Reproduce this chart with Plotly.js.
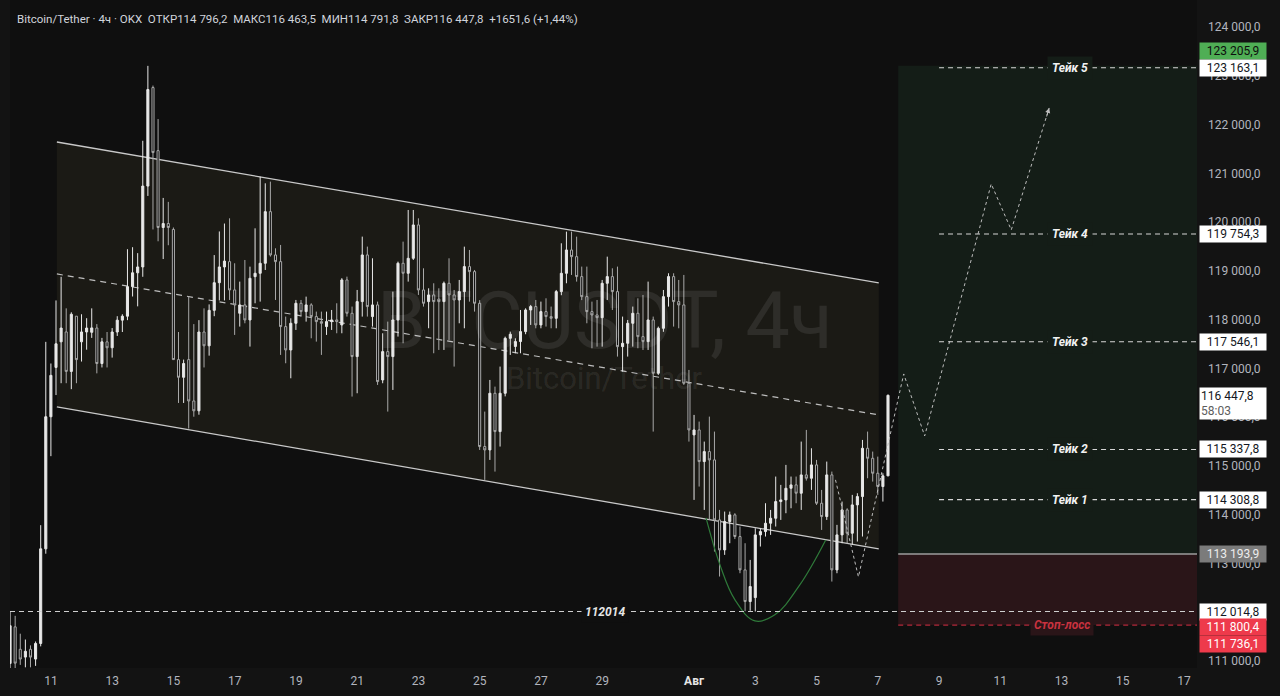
<!DOCTYPE html>
<html>
<head>
<meta charset="utf-8">
<script src="https://cdn.plot.ly/plotly-3.0.1.min.js"></script>
<style>
  html, body { margin: 0; padding: 0; background: #121212; }
  #chart { width: 1280px; height: 696px; }
</style>
</head>
<body>
<div id="chart"></div>
<script>
// ---- BTC/USDT 4h bars (OKX) ----
const firstBar = '2025-07-09T16:00:00Z';
const barHours = 4;

const opens = [
110950,111700,111240,111080,111240,111040,111360,113300,116008,117020,
117545,117747,116938,118070,117545,117747,117740,117827,117100,117544,
117423,117746,117989,118070,118676,118960,119080,120738,122758,121465,
119889,119970,119849,117180,116817,117180,116332,116130,117746,117463,
118190,118757,119080,119189,118608,118130,118301,117993,118881,118950,
119155,120214,119326,119189,117857,117378,117925,118335,118164,118301,
118062,117959,117857,117959,117993,117891,118813,118130,117242,118369,
119326,118062,118301,116763,117344,117242,117993,119155,118950,119257,
119941,118608,118369,118506,118420,118369,118745,118506,118403,118574,
119087,118984,118335,115397,115328,116490,115704,116490,117617,117450,
117550,117754,118198,118267,117891,118164,118062,118027,118574,118950,
119428,119291,118882,118471,118164,118096,118040,118745,118882,118574,
117446,117515,117925,118130,117651,117549,117993,116900,117822,118471,
118882,118369,118301,116695,115636,115738,115089,115294,115123,113893,
113278,113859,113996,113552,112868,112219,112300,113586,113654,113825,
113927,114269,114303,114542,114611,114440,114816,114747,115021,114235,
113962,114816,112868,113586,114098,113620,114201,114372,115362,115157,
114850,114577,114796.2];

const highs = [
112006,111926,111560,111440,111320,111400,113785,117544,117100,118393,
118878,118231,118150,118070,118110,118029,118231,117908,117625,117746,
117827,118070,118110,119444,119485,119363,121667,123203,122799,122112,
120495,120414,119889,117746,117180,118474,117908,117989,118231,118312,
119323,119808,119970,120077,119155,118779,119223,119086,119872,120931,
120795,120829,119462,119531,118062,118027,118403,118403,118471,118335,
118164,118164,118164,118198,118335,118850,118881,118267,118608,119702,
119497,119257,118369,117720,117959,118574,119189,119599,120248,120248,
120077,119052,118642,118745,118642,118780,119257,118608,118813,119496,
119428,119018,118400,116114,116763,116626,117037,117651,117754,117617,
118198,118232,118301,118403,118369,118437,118267,118608,119565,119804,
119804,119701,119087,119087,118369,118403,118813,119291,119052,119087,
118062,117993,118267,118437,118506,118779,118062,117857,118608,118950,
118950,118813,118916,116968,116046,115909,115499,116011,115704,114098,
114064,114064,114030,113757,113415,113073,113722,113722,114235,114098,
114782,114611,115021,114782,114782,115499,115738,115362,115123,114508,
115089,114884,113791,114269,114132,114406,114440,115533,115704,115294,
115191,114850,116463.5];

const lows = [
110800,110850,110920,110870,110870,110900,111300,113200,115200,116453,
116696,116696,116574,116696,117140,117383,117625,116898,117019,117019,
117221,117665,117746,117989,118474,118272,118878,120536,119849,119606,
119242,119525,117180,116291,116291,115766,116009,116050,117019,117261,
118070,118393,118393,118403,117686,117857,117925,117447,118335,118369,
119018,119292,118403,117276,117105,116797,117788,118062,117959,117617,
117549,117276,117686,117788,117720,117720,118062,116422,116490,118062,
118062,117857,116661,116695,116114,116558,117652,117515,118779,119223,
118506,118267,117823,117310,117378,117378,117583,117037,117925,117822,
118369,118164,115328,114713,115123,114884,115397,116426,117276,117310,
117310,117700,117891,117822,117822,117857,117822,117822,118500,118745,
118916,118779,118400,117925,117412,117446,117446,118403,118198,117242,
116934,117242,117446,117412,117378,117378,115704,116866,117750,118267,
117857,117822,116661,115499,114303,114577,114098,113893,113244,112732,
113176,113415,113500,112800,112020,112030,112014.8,113347,113552,113586,
113757,113893,114030,114132,114235,114098,114700,114508,114200,113688,
113893,112629,112800,113415,113415,113381,113449,113552,114747,114679,
114406,114269,114791.8];

const closes = [
111724,110956,111040,111200,111080,111360,113300,116008,116857,117504,
117827,116938,118110,117180,117747,117827,117830,117100,117544,117423,
117746,117989,118070,118676,118960,119080,120738,122718,121425,119889,
119970,119889,117180,116817,117100,116332,116130,117746,117463,118190,
118757,119080,119200,118608,118301,118301,117993,118847,118950,119155,
120214,119326,119189,117857,117378,117925,118335,118164,118301,118062,
117959,117925,117959,117993,117960,118813,118130,117242,118369,119326,
118267,118301,116729,117344,117242,117993,119155,118950,119257,119941,
118608,118335,118506,118369,118369,118745,118506,118403,118574,119087,
118984,118335,115397,115328,116490,115704,116490,117617,117700,117550,
117754,118198,118267,117891,118164,118062,118027,118574,118950,119428,
119291,118882,118471,118164,118096,118040,118745,118882,118574,117446,
117515,117925,118130,117651,117549,117993,116900,117822,118471,118882,
118369,118301,116695,115738,115738,115089,115294,115123,113893,113278,
113859,113996,113552,112868,112219,112527,113586,113654,113825,113927,
114269,114303,114542,114611,114440,114816,114747,115021,114235,113962,
114816,112868,113586,114098,113620,114201,114372,115362,115157,114850,
114577,114796.2,116447.8];

// ---- axis ticks ----
const dateTicks = ['2025-07-11','2025-07-13','2025-07-15','2025-07-17','2025-07-19','2025-07-21',
  '2025-07-23','2025-07-25','2025-07-27','2025-07-29','2025-08-01','2025-08-03','2025-08-05',
  '2025-08-07','2025-08-09','2025-08-11','2025-08-13','2025-08-15','2025-08-17'];
const dateTickText = ['11','13','15','17','19','21','23','25','27','29',
  '<b><span style="color:#e6e6e6">Авг</span></b>','3','5','7','9','11','13','15','17'];
const priceTicks = [111000,112000,113000,114000,115000,116000,117000,118000,119000,120000,121000,122000,123000,124000];

// ---- descending channel ----
const channelDates = ['2025-07-11 04:41', '2025-08-07 00:47'];
const channelTop = [121642, 118752];
const channelMid = [118936, 116046];
const channelBottom = [116210, 113299];

// ---- rounded bottom (cup) ----
const cupDates = ['2025-08-01 09:24','2025-08-01 20:20','2025-08-02 08:04','2025-08-02 23:41',
  '2025-08-03 15:19','2025-08-04 10:52','2025-08-05 07:12'];
const cupPrices = [113934, 112971, 112253, 111823, 111946, 112561, 113483];

// ---- projected path ----
const pathDates = ['2025-08-05 14:51','2025-08-06 08:50','2025-08-07 20:20','2025-08-08 12:44',
  '2025-08-10 16:53','2025-08-11 08:36','2025-08-12 14:18'];
const pathPrices = [114714, 112725, 116886, 115615, 120782, 119839, 122340];

// ---- long position ----
const positionStart = '2025-08-07 16:00';
const levelsStart = '2025-08-09 00:00';
const entryPrice = 113193.9;
const targetPrice = 123205.9;
const stopTagPrice = 111800.4;
const stopPrice = 111736.1;
const takeLabels = ['Тейк 1','Тейк 2','Тейк 3','Тейк 4','Тейк 5'];
const takePrices = [114308.8, 115337.8, 117546.1, 119754.3, 123163.1];
const labelDate = '2025-08-13 06:15';
const stopLabelDate = '2025-08-13 00:10';
const supportPrice = 112014.8;
const supportLabel = '112014';
const supportLabelDate = '2025-07-29 02:20';

const viewStart = '2025-07-09 15:57';
const viewEnd = '2025-08-17 10:09';

// ---- helpers ----
const pad = n => String(n).padStart(2, '0');
const barTimes = [];
{
  const t0 = Date.parse(firstBar);
  for (let i = 0; i < opens.length; i++) {
    const d = new Date(t0 + i * barHours * 3600e3);
    barTimes.push(`${d.getUTCFullYear()}-${pad(d.getUTCMonth() + 1)}-${pad(d.getUTCDate())} ${pad(d.getUTCHours())}:00`);
  }
}
const ms = s => Date.parse(s.replace(' ', 'T') + ':00Z');
const fmt = v => {
  const [i, d] = v.toFixed(1).split('.');
  return i.replace(/\B(?=(\d{3})+(?!\d))/g, ' ') + ',' + d;
};

const BG = '#0f0f0f';
const CHANNEL_FILL = '#1b1a15';
const GREEN_ZONE = '#141d17';
const RED_ZONE = '#2a1518';
const FONT = 'Roboto, "Liberation Sans", sans-serif';

// ---- traces ----
const traces = [
  {
    type: 'candlestick', x: barTimes, open: opens, high: highs, low: lows, close: closes,
    increasing: { line: { color: '#e8e8e8', width: 1 }, fillcolor: '#e8e8e8' },
    decreasing: { line: { color: '#a9a9a9', width: 1 }, fillcolor: '#121212' },
    whiskerwidth: 0, hoverinfo: 'skip', showlegend: false
  },
  {
    type: 'scatter', mode: 'lines', x: cupDates, y: cupPrices,
    line: { color: '#2f7a3a', width: 1.2, shape: 'spline', smoothing: 1.1 },
    hoverinfo: 'skip', showlegend: false
  },
  {
    type: 'scatter', mode: 'lines', x: pathDates, y: pathPrices,
    line: { color: '#bdbdbd', width: 1, dash: 'dot' },
    hoverinfo: 'skip', showlegend: false
  }
];

// ---- shapes ----
const channelPath = `M ${ms(channelDates[0])},${channelTop[0]} L ${ms(channelDates[1])},${channelTop[1]} ` +
  `L ${ms(channelDates[1])},${channelBottom[1]} L ${ms(channelDates[0])},${channelBottom[0]} Z`;

const shapes = [
  // position zones
  { type: 'rect', xref: 'x', yref: 'y', x0: positionStart, x1: viewEnd, y0: entryPrice, y1: targetPrice,
    fillcolor: GREEN_ZONE, line: { width: 0 }, layer: 'below' },
  { type: 'rect', xref: 'x', yref: 'y', x0: positionStart, x1: viewEnd, y0: stopPrice, y1: entryPrice,
    fillcolor: RED_ZONE, line: { width: 0 }, layer: 'below' },
  // channel
  { type: 'path', xref: 'x', yref: 'y', path: channelPath, fillcolor: CHANNEL_FILL, line: { width: 0 }, layer: 'below' },
  { type: 'line', xref: 'x', yref: 'y', x0: channelDates[0], x1: channelDates[1], y0: channelTop[0], y1: channelTop[1],
    line: { color: '#c9c9c9', width: 1.3 }, layer: 'below' },
  { type: 'line', xref: 'x', yref: 'y', x0: channelDates[0], x1: channelDates[1], y0: channelBottom[0], y1: channelBottom[1],
    line: { color: '#c9c9c9', width: 1.3 }, layer: 'below' },
  { type: 'line', xref: 'x', yref: 'y', x0: channelDates[0], x1: channelDates[1], y0: channelMid[0], y1: channelMid[1],
    line: { color: '#bdbdbd', width: 1.2, dash: '6px,5px' }, layer: 'below' },
  // support level
  { type: 'line', xref: 'paper', yref: 'y', x0: 0, x1: 1, y0: supportPrice, y1: supportPrice,
    line: { color: '#cfcfcf', width: 1.1, dash: '5px,4px' } },
  // entry
  { type: 'line', xref: 'x', yref: 'y', x0: positionStart, x1: viewEnd, y0: entryPrice, y1: entryPrice,
    line: { color: '#9c9c9c', width: 1.3 } },
  // stop
  { type: 'line', xref: 'x', yref: 'y', x0: positionStart, x1: viewEnd, y0: stopPrice, y1: stopPrice,
    line: { color: '#b3293a', width: 1.1, dash: '5px,4px' } }
];
takePrices.forEach(p => shapes.push({
  type: 'line', xref: 'x', yref: 'y', x0: levelsStart, x1: viewEnd, y0: p, y1: p,
  line: { color: '#d6d6d6', width: 1.1, dash: '5px,4px' }
}));

// ---- annotations ----
const annotations = [
  { xref: 'paper', yref: 'paper', x: 0.5013, y: 0.52, text: 'BTCUSDT, 4ч', showarrow: false,
    font: { family: FONT, size: 79, color: 'rgba(255,255,255,0.085)' }, xanchor: 'center', yanchor: 'middle' },
  { xref: 'paper', yref: 'paper', x: 0.5, y: 0.434, text: 'Bitcoin/Tether', showarrow: false,
    font: { family: FONT, size: 31, color: 'rgba(255,255,255,0.085)' }, xanchor: 'center', yanchor: 'middle' },
  { xref: 'paper', yref: 'paper', x: 0.0042, y: 0.9716, xanchor: 'left', yanchor: 'middle', showarrow: false,
    text: 'Bitcoin/Tether · 4ч · OKX&nbsp;&nbsp;ОТКР114 796,2&nbsp;&nbsp;МАКС116 463,5&nbsp;&nbsp;МИН114 791,8&nbsp;&nbsp;ЗАКР116 447,8&nbsp;&nbsp;+1651,6 (+1,44%)',
    font: { family: FONT, size: 11.5, color: '#d1d4dc' } },
  // arrow tip of the projected path
  { xref: 'x', yref: 'y', axref: 'x', ayref: 'y', x: pathDates[pathDates.length - 1], y: pathPrices[pathPrices.length - 1],
    ax: '2025-08-12 11:58', ay: 122134, showarrow: true, arrowhead: 2, arrowsize: 1, arrowwidth: 1,
    arrowcolor: '#bdbdbd', text: '', standoff: 0 },
  // support label
  { xref: 'x', yref: 'y', x: supportLabelDate, y: supportPrice, text: '<b><i>' + supportLabel + '</i></b>',
    showarrow: false, bgcolor: BG, borderpad: 3, font: { family: FONT, size: 12, color: '#e6e6e6' } },
  // stop label
  { xref: 'x', yref: 'y', x: stopLabelDate, y: stopPrice, text: '<b><i>Стоп-лосс</i></b>',
    showarrow: false, bgcolor: RED_ZONE, borderpad: 3, font: { family: FONT, size: 12, color: '#c8323f' } }
];
takePrices.forEach((p, k) => annotations.push({
  xref: 'x', yref: 'y', x: labelDate, y: p, text: '<b><i>' + takeLabels[k] + '</i></b>',
  showarrow: false, bgcolor: GREEN_ZONE, borderpad: 4, font: { family: FONT, size: 12, color: '#f2f2f2' }
}));

// price scale tags
function tag(value, bg, fg, shift) {
  annotations.push({
    xref: 'paper', yref: 'y', x: 1, y: value, xanchor: 'left', yanchor: 'middle', xshift: 2, yshift: shift || 0,
    text: fmt(value), showarrow: false, bgcolor: bg, width: 64, height: 14, borderpad: 1, align: 'center',
    font: { family: FONT, size: 12, color: fg }
  });
}
tag(targetPrice, '#4fae55', '#0d0d0d', 15);
takePrices.forEach(p => tag(p, '#ffffff', '#131722', 0));
tag(entryPrice, '#7b7b7b', '#ededed', 0);
tag(supportPrice, '#ffffff', '#131722', 0);
tag(stopTagPrice, '#ee3a4b', '#ffffff', -5);
tag(stopPrice, '#ee3a4b', '#ffffff', -19);
annotations.push({
  xref: 'paper', yref: 'y', x: 1, y: closes[closes.length - 1], xanchor: 'left', yanchor: 'top', xshift: 2, yshift: 8,
  text: fmt(closes[closes.length - 1]) + '<br><span style="color:#5d5d5d">58:03</span>', showarrow: false,
  bgcolor: '#ffffff', width: 64, height: 29, borderpad: 1, align: 'left',
  font: { family: FONT, size: 12, color: '#131722' }
});

const layout = {
  width: 1280, height: 696,
  margin: { l: 10, r: 83, t: 0, b: 28 },
  paper_bgcolor: '#131313', plot_bgcolor: BG,
  separators: ', ',
  showlegend: false, hovermode: false,
  boxgap: 0.42,
  font: { family: FONT, color: '#b2b5be' },
  xaxis: {
    type: 'date', range: [viewStart, viewEnd], tickvals: dateTicks, ticktext: dateTickText,
    showgrid: false, zeroline: false, showline: false, ticks: '', rangeslider: { visible: false },
    tickfont: { family: FONT, size: 12, color: '#b2b5be' }, ticklabelstandoff: 4, fixedrange: true
  },
  yaxis: {
    side: 'right', range: [110856.5, 124553.5], tickvals: priceTicks, tickformat: ',.1f',
    showgrid: false, zeroline: false, showline: false, ticks: '', ticklabelstandoff: 10,
    tickfont: { family: FONT, size: 12, color: '#b2b5be' }, fixedrange: true
  },
  shapes: shapes,
  annotations: annotations
};

Plotly.newPlot('chart', traces, layout, { displayModeBar: false, staticPlot: true });
</script>
</body>
</html>
